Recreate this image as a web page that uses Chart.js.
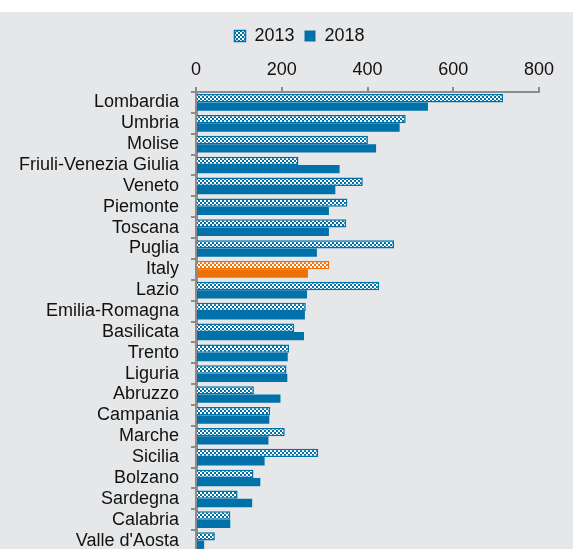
<!DOCTYPE html>
<html>
<head>
<meta charset="utf-8">
<script src="https://cdn.jsdelivr.net/npm/chart.js@4.4.1/dist/chart.umd.min.js"></script>
<style>
  html, body { margin: 0; padding: 0; background: #fff; overflow: hidden; }
  #wrap { position: absolute; left: 0; top: 12px; width: 573px; height: 539px; background: #e6e7e9; }
</style>
</head>
<body>
<div id="wrap"><canvas id="chart" width="573" height="539"></canvas></div>
<script>
// ==============================
// DATA
// ==============================
const regions = ['Lombardia', 'Umbria', 'Molise', 'Friuli-Venezia Giulia', 'Veneto', 'Piemonte',
  'Toscana', 'Puglia', 'Italy', 'Lazio', 'Emilia-Romagna', 'Basilicata', 'Trento', 'Liguria',
  'Abruzzo', 'Campania', 'Marche', 'Sicilia', 'Bolzano', 'Sardegna', 'Calabria', "Valle d'Aosta"];
const values2013 = [716, 489, 401, 239, 389, 353, 350, 462, 311, 427, 256, 229, 217, 211,
  135, 173, 207, 285, 134, 97, 80, 44];
const values2018 = [541, 475, 420, 335, 325, 310, 310, 282, 261, 259, 254, 252, 214, 213,
  197, 171, 169, 160, 150, 131, 80, 19];
const xTicks = [0, 200, 400, 600, 800];

const BLUE = '#0071a9';
const ORANGE = '#ed7104';
const AXIS = '#8c8c8c';
const italyIdx = regions.indexOf('Italy');

// checkered fill for the 2013 bars
function checker(color) {
  const c = document.createElement('canvas');
  c.width = 4; c.height = 4;
  const g = c.getContext('2d');
  g.fillStyle = color;
  g.fillRect(0, 0, 4, 4);
  g.fillStyle = '#ffffff';
  g.fillRect(0, 0, 2, 2);
  g.fillRect(2, 2, 2, 2);
  return g.createPattern(c, 'repeat');
}
const bluePattern = checker(BLUE);
const orangePattern = checker(ORANGE);

// legend sits a little right of the canvas centre in the original
const legendShift = {
  id: 'legendShift',
  afterLayout(chart) {
    chart.legend.left += 30;
    chart.legend.right += 30;
  }
};

Chart.defaults.font.family = 'Arial, "Liberation Sans", sans-serif';
Chart.defaults.color = '#111';

new Chart(document.getElementById('chart'), {
  type: 'bar',
  data: {
    labels: regions,
    datasets: [{
      label: '2013',
      data: values2013,
      backgroundColor: ctx => ctx.dataIndex === italyIdx ? orangePattern : bluePattern,
      borderColor: ctx => ctx.dataIndex === italyIdx ? ORANGE : BLUE,
      borderWidth: 1.5,
      categoryPercentage: 0.8,
      barPercentage: 1.0
    }, {
      label: '2018',
      data: values2018,
      backgroundColor: ctx => ctx.dataIndex === italyIdx ? ORANGE : BLUE,
      borderWidth: 0,
      categoryPercentage: 0.8,
      barPercentage: 1.0
    }]
  },
  options: {
    indexAxis: 'y',
    responsive: false,
    animation: false,
    layout: { padding: { top: 5, right: 34, left: 0, bottom: 0 } },
    plugins: {
      legend: {
        position: 'top',
        labels: { boxWidth: 11, boxHeight: 11, padding: 10, font: { size: 18 } }
      },
      tooltip: { enabled: false }
    },
    scales: {
      x: {
        position: 'top',
        min: 0,
        max: 800,
        afterBuildTicks: s => { s.ticks = xTicks.map(v => ({ value: v })); },
        afterFit: s => { s.height = 37; },
        ticks: { font: { size: 18 }, padding: 6, color: '#111' },
        grid: { drawOnChartArea: false, tickLength: 5, color: AXIS, lineWidth: 2 },
        border: { color: AXIS, width: 2 }
      },
      y: {
        afterFit: s => { s.width = 196; s.paddingTop = 0; s.paddingBottom = 0; },
        ticks: { font: { size: 18 }, padding: 12, color: '#111', autoSkip: false },
        grid: { drawOnChartArea: false, tickLength: 5, color: AXIS, lineWidth: 2 },
        border: { color: AXIS, width: 3 }
      }
    }
  },
  plugins: [legendShift]
});
</script>
</body>
</html>
